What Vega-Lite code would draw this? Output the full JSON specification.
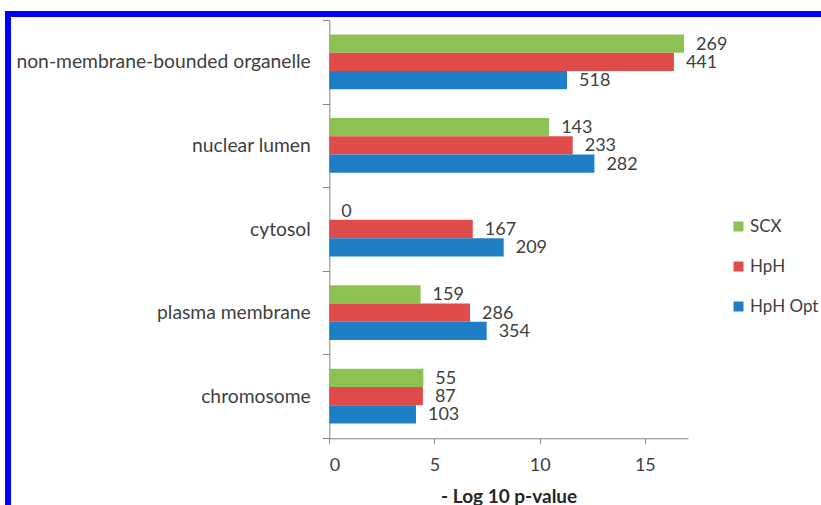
{
  "$schema": "https://vega.github.io/schema/vega-lite/v6.json",
  "autosize": "none",
  "width": 820,
  "height": 500,
  "padding": {"left": 8, "top": 14, "right": 0, "bottom": 0},
  "background": "white",
  "config": {
    "view": {"stroke": "#0000ff", "strokeWidth": 6},
    "font": "Lato",
    "axis": {"grid": false, "domainColor": "#868686", "tickColor": "#868686", "labelColor": "#404040", "labelFont": "Lato", "labelFontSize": 18, "titleFont": "Lato"},
    "legend": {"labelFont": "Lato", "labelColor": "#404040"}
  },
  "data": {
    "values": [
      {"component": "non-membrane-bounded organelle", "method": "SCX", "logp": 16.86, "proteins": 269},
      {"component": "non-membrane-bounded organelle", "method": "HpH", "logp": 16.38, "proteins": 441},
      {"component": "non-membrane-bounded organelle", "method": "HpH Opt", "logp": 11.3, "proteins": 518},
      {"component": "nuclear lumen", "method": "SCX", "logp": 10.45, "proteins": 143},
      {"component": "nuclear lumen", "method": "HpH", "logp": 11.57, "proteins": 233},
      {"component": "nuclear lumen", "method": "HpH Opt", "logp": 12.6, "proteins": 282},
      {"component": "cytosol", "method": "SCX", "logp": 0, "proteins": 0},
      {"component": "cytosol", "method": "HpH", "logp": 6.82, "proteins": 167},
      {"component": "cytosol", "method": "HpH Opt", "logp": 8.29, "proteins": 209},
      {"component": "plasma membrane", "method": "SCX", "logp": 4.34, "proteins": 159},
      {"component": "plasma membrane", "method": "HpH", "logp": 6.69, "proteins": 286},
      {"component": "plasma membrane", "method": "HpH Opt", "logp": 7.48, "proteins": 354},
      {"component": "chromosome", "method": "SCX", "logp": 4.47, "proteins": 55},
      {"component": "chromosome", "method": "HpH", "logp": 4.45, "proteins": 87},
      {"component": "chromosome", "method": "HpH Opt", "logp": 4.12, "proteins": 103}
    ]
  },
  "encoding": {
    "y": {
      "field": "component",
      "type": "nominal",
      "sort": ["non-membrane-bounded organelle", "nuclear lumen", "cytosol", "plasma membrane", "chromosome"],
      "scale": {"range": [6, 424], "paddingInner": 0, "paddingOuter": 0},
      "axis": {"title": null, "orient": "left", "offset": -321.3, "tickBand": "extent", "tickSize": 7, "labelPadding": 12, "labelLimit": 400, "labelFontSize": 19.3}
    },
    "yOffset": {
      "field": "method",
      "type": "nominal",
      "sort": ["SCX", "HpH", "HpH Opt"],
      "scale": {"paddingInner": 0, "paddingOuter": 0.79}
    },
    "x": {
      "field": "logp",
      "type": "quantitative",
      "scale": {"domain": [0, 17.05], "range": [321.3, 680], "nice": false, "zero": false},
      "axis": {"title": "- Log 10 p-value", "orient": "bottom", "offset": -75.7, "values": [0, 5, 10, 15], "tickSize": 5, "labelPadding": 13, "titleFontWeight": "bold", "titleFontSize": 19, "titleColor": "#262626", "titlePadding": 13}
    }
  },
  "layer": [
    {
      "mark": {"type": "bar"},
      "encoding": {
        "color": {
          "field": "method",
          "type": "nominal",
          "scale": {"domain": ["SCX", "HpH", "HpH Opt"], "range": ["#8dc153", "#e04b4b", "#1f7fc6"]},
          "legend": {"title": null, "orient": "none", "legendX": 722, "legendY": 204, "symbolType": "square", "symbolSize": 100, "symbolStrokeWidth": 0, "labelFontSize": 17, "rowPadding": 22, "labelOffset": 3}
        }
      }
    },
    {
      "mark": {"type": "text", "align": "left", "baseline": "middle", "dx": 12, "dy": 1, "fontSize": 18, "color": "#404040"},
      "encoding": {"text": {"field": "proteins", "type": "quantitative"}}
    }
  ]
}
